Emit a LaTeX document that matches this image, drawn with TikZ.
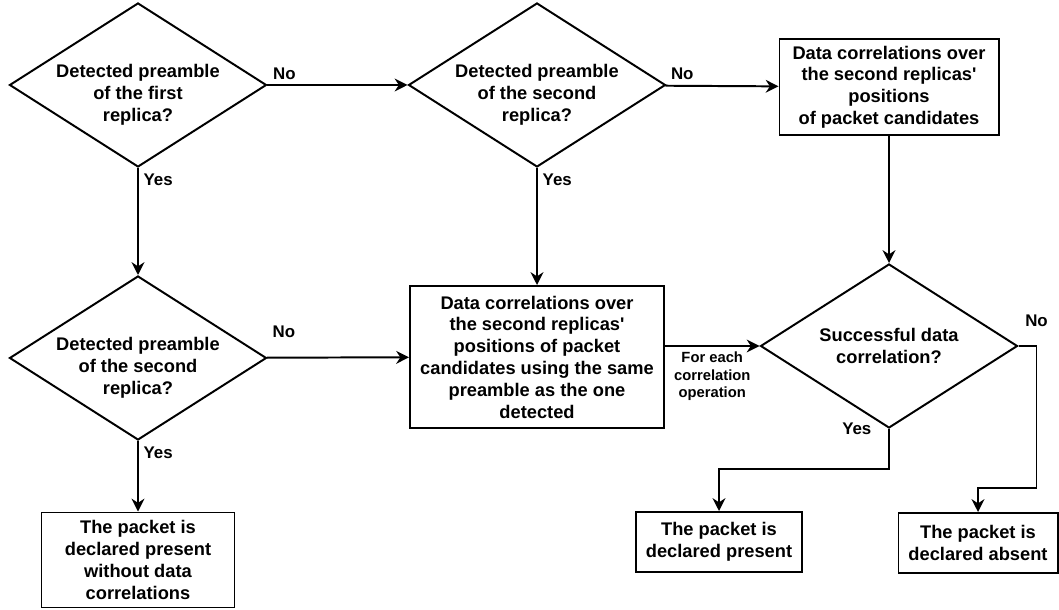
\documentclass[tikz,border=0pt]{standalone}
\usepackage{fontspec}
\setmainfont{Liberation Sans}
\usetikzlibrary{shapes.geometric,arrows.meta}
\newcommand{\dtext}[1]{\raisebox{-0.36cm}[0pt][0pt]{\begin{tabular}{@{}c@{}}#1\end{tabular}}}
\begin{document}
\begin{tikzpicture}[line width=1.4pt,
  every node/.style={font=\fontsize{13}{15.5}\selectfont\bfseries},
  decision node/.style={diamond,draw,align=center,inner sep=0pt,shape aspect=1.57,minimum width=6.425cm,minimum height=4.1cm},
  process node/.style={rectangle,draw,align=center,inner sep=2pt},
  answer/.style={font=\fontsize{12}{14}\selectfont\bfseries},
  small note/.style={font=\fontsize{10.5}{12.6}\selectfont\bfseries,align=center},
  flow/.style={-{Stealth[length=3.2mm,width=3.2mm]}}]
  \useasboundingbox (0,0) rectangle (26.475,15.25);
  \node[decision node] (D1) at (3.45,13.125) {\dtext{Detected preamble\\of the first\\replica?}};
  \node[decision node] (D2) at (13.425,13.125) {\dtext{Detected preamble\\of the second\\replica?}};
  \node[process node,minimum width=5.475cm,minimum height=2.4cm] (TR) at (22.225,13.075) {Data correlations over\\the second replicas\textquotesingle\\positions\\of packet candidates};
  \node[decision node] (D3) at (3.45,6.3) {\dtext{Detected preamble\\of the second\\replica?}};
  \node[process node,minimum width=6.35cm,minimum height=3.55cm] (BM) at (13.425,6.325) {Data correlations over\\the second replicas\textquotesingle\\positions of packet\\candidates using the same\\preamble as the one\\detected};
  \node[decision node] (D4) at (22.225,6.6) {Successful data\\correlation?};
  \node[process node,minimum width=4.825cm,minimum height=2.375cm] (BL) at (3.45,1.25) {The packet is\\declared present\\without data\\correlations};
  \node[process node,minimum width=4.15cm,minimum height=1.5cm] (BP) at (17.975,1.7) {The packet is\\declared present};
  \node[process node,minimum width=3.975cm,minimum height=1.5cm] (BA) at (24.45,1.675) {The packet is\\declared absent};
  \path[flow]
   (D1) edge node[answer,pos=0,above right]{No} (D2)
   (D1) edge node[answer,pos=0,below right]{Yes} (D3)
   (D2) edge node[answer,pos=0,above right]{No} (TR)
   (D2) edge node[answer,pos=0,below right]{Yes} (BM)
   (D3) edge node[answer,pos=0,above right,yshift=0.35cm]{No} (BM)
   (D3) edge node[answer,pos=0,below right]{Yes} (BL)
   (TR) edge (D4)
   (D4.west -| BM.east) edge node[small note,below]{For each\\correlation\\operation} (D4.west);
  \draw[flow] (D4.south) node[answer,left,xshift=-0.3cm]{Yes} -- ++(0,-1) -| (BP.north);
  \draw[flow] (D4.east) -- ++(0.45,0) node[answer,above,yshift=0.35cm]{No} |- ([yshift=0.6cm]BA.north) -- (BA.north);
\end{tikzpicture}
\end{document}
